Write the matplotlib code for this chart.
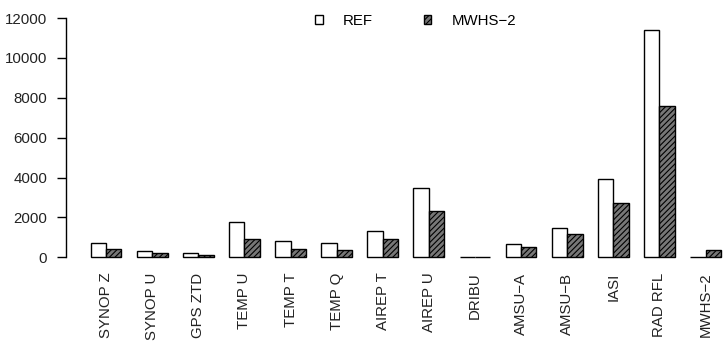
import matplotlib
matplotlib.use("Agg")
import matplotlib.pyplot as plt
from matplotlib.patches import Patch
import numpy as np

plt.rcParams['font.family'] = ['Liberation Sans', 'DejaVu Sans']
plt.rcParams['hatch.linewidth'] = 0.8

categories = ["SYNOP Z", "SYNOP U", "GPS ZTD", "TEMP U", "TEMP T", "TEMP Q",
              "AIREP T", "AIREP U", "DRIBU", "AMSU\u2212A", "AMSU\u2212B", "IASI",
              "RAD RFL", "MWHS\u22122"]
ref_values = [730, 330, 230, 1780, 800, 715, 1300, 3500, 20, 650, 1465, 3915, 11400, 0]
mwhs_values = [430, 200, 100, 930, 430, 380, 930, 2300, 20, 500, 1150, 2715, 7580, 350]
yticks = [0, 2000, 4000, 6000, 8000, 10000, 12000]

W, H = 724, 341
fig = plt.figure(figsize=(W / 100, H / 100), dpi=100)
bottom = 1 - 257.3 / H
top = 1 - 18 / H
ax = fig.add_axes([66 / W, bottom, 1 - 66 / W, top - bottom])

n = len(categories)
x_ref = np.arange(n) * 3 + 1
x_mw = np.arange(n) * 3 + 2
ax.bar(x_ref, ref_values, width=1, align='edge', facecolor='white',
       edgecolor='black', linewidth=1.0, clip_on=False)
ax.bar(x_mw, mwhs_values, width=1, align='edge', facecolor='#777777',
       edgecolor='black', linewidth=1.0, hatch='//////', clip_on=False)

ax.set_xlim(-0.607, 42.2)
ax.set_ylim(0, 12000)
for s in ['top', 'right', 'bottom']:
    ax.spines[s].set_visible(False)
ax.spines['left'].set_bounds(0, 12000)
ax.spines['left'].set_linewidth(1.0)
ax.set_yticks(yticks)
ax.set_yticklabels([str(v) for v in yticks], fontsize=10.8, color='#222222')
ax.tick_params(axis='y', length=6.5, width=1.0, pad=7)
ax.set_xticks(x_mw)
ax.set_xticklabels(categories, rotation=90, fontsize=10.8, color='#222222')
ax.tick_params(axis='x', length=0, pad=11)

handles = [Patch(facecolor='white', edgecolor='black', linewidth=1.0),
           Patch(facecolor='#777777', edgecolor='black', linewidth=1.0, hatch='//////')]
fig.legend(handles, ["REF", "MWHS\u22122"], loc='center left',
           bbox_to_anchor=(315 / W, 1 - 20.7 / H), ncol=2, frameon=False,
           fontsize=10.8, handlelength=0.5, handleheight=0.5, handletextpad=1.35,
           columnspacing=3.4, borderpad=0, borderaxespad=0)

fig.savefig("out.png", dpi=100)
